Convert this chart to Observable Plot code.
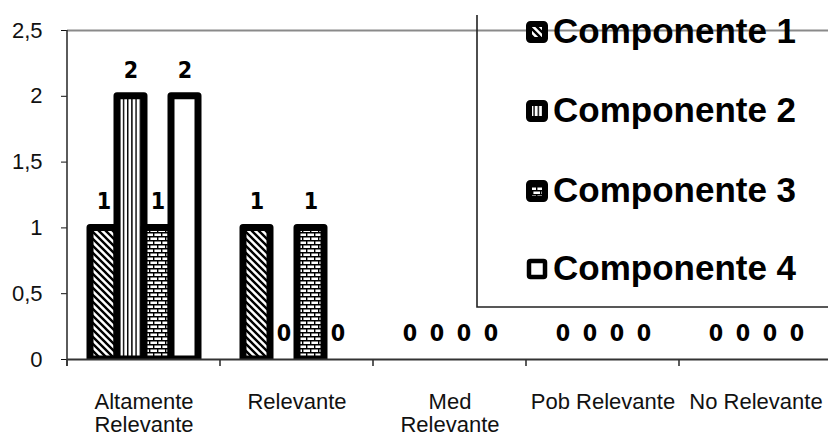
<!DOCTYPE html>
<html><head><meta charset="utf-8">
<script src="https://cdn.jsdelivr.net/npm/d3@7"></script>
<script src="https://cdn.jsdelivr.net/npm/@observablehq/plot@0.6"></script>
<style>
html,body{margin:0;padding:0;background:#fff;}
#chart{position:relative;width:828px;height:434px;overflow:hidden;}
</style></head><body><div id="chart"></div>
<script>
// ---- data ----
const categories = ["Altamente Relevante", "Relevante", "Med Relevante", "Pob Relevante", "No Relevante"];
const categoryLabels = ["Altamente\nRelevante", "Relevante", "Med\nRelevante", "Pob Relevante", "No Relevante"];
const components = ["Componente 1", "Componente 2", "Componente 3", "Componente 4"];
const comp1 = [1, 1, 0, 0, 0];
const comp2 = [2, 0, 0, 0, 0];
const comp3 = [1, 1, 0, 0, 0];
const comp4 = [2, 0, 0, 0, 0];
const yTicks = [0, 0.5, 1, 1.5, 2, 2.5];
const patternIds = ["hatch", "vlines", "bricks", "blank"];

const series = [comp1, comp2, comp3, comp4];
const rows = categories.flatMap((c, i) => components.map((k, j) => ({category: c, component: k, value: series[j][i]})));

const labelFont = "'Liberation Sans Narrow', 'Arial Narrow', 'DejaVu Sans Condensed', 'DejaVu Sans', sans-serif";
const mainFont = "'Liberation Sans', Arial, sans-serif";

const chart = Plot.plot({
  width: 828,
  height: 434,
  marginLeft: 66,
  marginRight: -5.5,
  marginTop: 30,
  marginBottom: 75,
  style: {fontFamily: mainFont, fontSize: "22px", background: "white", color: "#111"},
  fx: {domain: categories, padding: 0, label: null},
  x: {domain: components, padding: 0, insetLeft: 21.75, insetRight: 21.75, axis: null},
  y: {domain: [0, 2.5], ticks: yTicks, tickFormat: d => String(d).replace(".", ","), tickSize: 6, tickPadding: 19, label: null},
  color: {domain: components, range: patternIds.map(id => `url(#${id})`)},
  marks: [
    Plot.ruleY([2.5], {stroke: "#8a8a8a", strokeWidth: 2}),
    Plot.barY(rows.filter(d => d.value > 0), {fx: "category", x: "component", y: "value", fill: "component", stroke: "black", strokeWidth: 7, strokeLinejoin: "round", clip: true}),
    Plot.ruleY([0], {stroke: "#333", strokeWidth: 2}),
    Plot.text(rows, {fx: "category", x: "component", y: "value", text: d => String(d.value), dy: -26, lineAnchor: "middle", fontFamily: labelFont, fontWeight: "bold", fontSize: 23, fill: "black", className: "vlabels"}),
    Plot.axisFx({anchor: "bottom", tickSize: 0, tickPadding: 32.5, lineHeight: 1.06, fontSize: 22, label: null, tickFormat: d => categoryLabels[categories.indexOf(d)]})
  ]
});
document.getElementById("chart").appendChild(chart);

// ---- patterns ----
const svg = d3.select(chart);
svg.selectAll(".vlabels").style("font-stretch", "condensed");
const defs = svg.insert("defs", ":first-child");
const p1 = defs.append("pattern").attr("id", "hatch").attr("patternUnits", "userSpaceOnUse").attr("width", 7).attr("height", 7);
p1.append("rect").attr("width", 7).attr("height", 7).attr("fill", "white");
p1.append("path").attr("d", "M-1,-1L8,8M-4.5,2.5L-1,6M3,-4L8,1M-1,6L2,9M5.5,-1.5L9,2").attr("stroke", "black").attr("stroke-width", 2.4);
const p2 = defs.append("pattern").attr("id", "vlines").attr("patternUnits", "userSpaceOnUse").attr("width", 4.2).attr("height", 10);
p2.append("rect").attr("width", 4.2).attr("height", 10).attr("fill", "white");
p2.append("rect").attr("width", 1.4).attr("height", 10).attr("fill", "black");
const p3 = defs.append("pattern").attr("id", "bricks").attr("patternUnits", "userSpaceOnUse").attr("width", 8).attr("height", 8);
p3.append("rect").attr("width", 8).attr("height", 8).attr("fill", "white");
p3.append("path").attr("d", "M0,0H8V1.4H0ZM0,4H8V5.4H0ZM0,0H1.4V4H0ZM4,4H5.4V8H4Z").attr("fill", "black");
const p4 = defs.append("pattern").attr("id", "blank").attr("patternUnits", "userSpaceOnUse").attr("width", 8).attr("height", 8);
p4.append("rect").attr("width", 8).attr("height", 8).attr("fill", "white");

// ---- axis lines and category boundary ticks, from the plot's scales ----
const fx = chart.scale("fx");
const y = chart.scale("y");
const y0 = y.apply(0), yTop = y.apply(2.5);
const xLeft = fx.apply(categories[0]);
const axes = svg.append("g").attr("stroke", "#333").attr("stroke-width", 1.6);
axes.append("line").attr("x1", xLeft).attr("x2", xLeft).attr("y1", yTop).attr("y2", y0 + 7);
categories.forEach(c => {
  const xb = fx.apply(c);
  axes.append("line").attr("x1", xb).attr("x2", xb).attr("y1", y0).attr("y2", y0 + 7);
});

// ---- legend ----
const leg = svg.append("g").attr("text-anchor", "start");
leg.append("path").attr("d", "M477,15V307H830").attr("fill", "none").attr("stroke", "#222").attr("stroke-width", 1.6);
const legendRowsY = [43, 122, 202, 280];
components.forEach((k, i) => {
  const g = leg.append("g").attr("transform", `translate(0,${legendRowsY[i]})`);
  g.append("rect").attr("x", 529).attr("y", -19).attr("width", 16).attr("height", 16)
    .attr("rx", 1.5).attr("fill", `url(#${patternIds[i]})`).attr("stroke", "black").attr("stroke-width", i === 3 ? 4.5 : 6).attr("stroke-linejoin", "round");
  g.append("text").attr("x", 553).attr("y", 0).attr("text-anchor", "start").attr("font-family", mainFont)
    .attr("font-weight", "bold").attr("font-size", 35).attr("fill", "black").text(k);
});
</script>
</body></html>
